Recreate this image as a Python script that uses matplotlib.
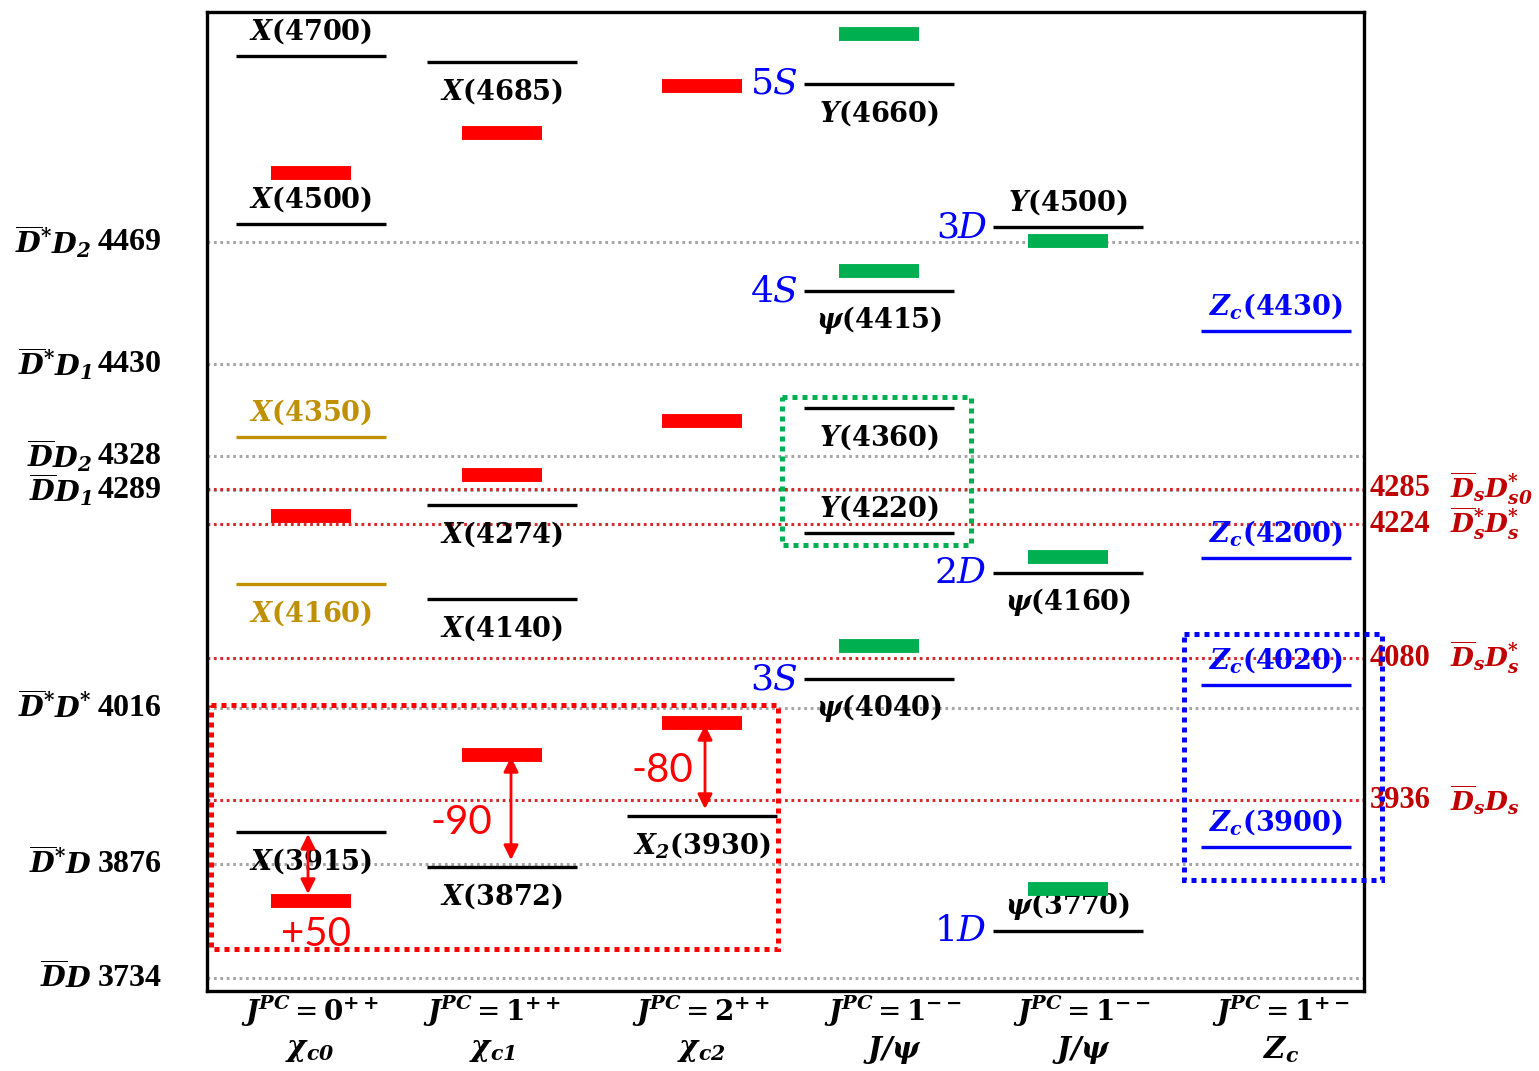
import matplotlib.pyplot as plt
from matplotlib.patches import Rectangle

plt.rcParams['mathtext.fontset'] = 'custom'
plt.rcParams['mathtext.rm'] = 'DejaVu Serif'
plt.rcParams['mathtext.it'] = 'DejaVu Serif:italic'
plt.rcParams['mathtext.bf'] = 'DejaVu Serif:bold'
plt.rcParams['mathtext.bfit'] = 'DejaVu Serif:italic:bold'

# --- data -----------------------------------------------------------------
# open-charm thresholds (left side), level height in diagram units
thr_name = [r'\overline{D}^{*}D_{2}', r'\overline{D}^{*}D_{1}', r'\overline{D}D_{2}',
            r'\overline{D}D_{1}', r'\overline{D}^{*}D^{*}', r'\overline{D}^{*}D',
            r'\overline{D}D']
thr_mass = [4469, 4430, 4328, 4289, 4016, 3876, 3734]
thr_y = [242, 364, 456, 490, 708, 864, 978]

# charm-strange thresholds (right side)
ds_name = [r'\overline{D}_{s}D^{*}_{s0}', r'\overline{D}^{*}_{s}D^{*}_{s}',
           r'\overline{D}_{s}D^{*}_{s}', r'\overline{D}_{s}D_{s}']
ds_mass = [4285, 4224, 4080, 3936]
ds_y = [489, 524, 658, 800]

# columns
jpc = [r'0^{++}', r'1^{++}', r'2^{++}', r'1^{--}', r'1^{--}', r'1^{+-}']
family = [r'\chi_{c0}', r'\chi_{c1}', r'\chi_{c2}', r'J/\psi', r'J/\psi', r'Z_{c}']

# observed states
level_col = [0, 0, 0, 0, 0, 1, 1, 1, 1, 2, 3, 3, 3, 3, 3, 4, 4, 4, 5, 5, 5, 5]
level_sym = ['X', 'X', 'X', 'X', 'X', 'X', 'X', 'X', 'X', 'X_{2}',
             'Y', r'\psi', 'Y', 'Y', r'\psi', 'Y', r'\psi', r'\psi',
             'Z_{c}', 'Z_{c}', 'Z_{c}', 'Z_{c}']
level_mass = [4700, 4500, 4350, 4160, 3915, 4685, 4274, 4140, 3872, 3930,
              4660, 4415, 4360, 4220, 4040, 4500, 4160, 3770,
              4430, 4200, 4020, 3900]
level_y = [56, 224, 437, 584, 832, 62, 505, 599, 867, 816,
           84, 291, 408, 533, 679, 227, 573, 931,
           331, 558, 685, 847]
level_side = ['up', 'up', 'up', 'down', 'down', 'down', 'down', 'down', 'down', 'down',
              'down', 'down', 'down', 'up', 'down', 'up', 'down', 'up',
              'up', 'up', 'up', 'up']
level_kind = ['k', 'k', 'g', 'g', 'k', 'k', 'k', 'k', 'k', 'k',
              'k', 'k', 'k', 'k', 'k', 'k', 'k', 'k',
              'b', 'b', 'b', 'b']

# model predictions
red_bar_col = [0, 0, 0, 1, 1, 1, 2, 2, 2]
red_bar_y = [173, 516, 901, 133, 475, 755, 86, 421, 723]
green_bar_col = [3, 3, 3, 4, 4, 4]
green_bar_y = [34, 271, 646, 241, 557, 889]

# radial assignments of the vector states
nl_label = ['5S', '4S', '3S', '3D', '2D', '1D']
nl_col = [3, 3, 3, 4, 4, 4]
nl_y = [84, 291, 679, 227, 573, 931]

# mass shifts between model and observed X states
shift_col = [0, 1, 2]
shift_level = [832, 867, 816]
shift_bar = [901, 755, 723]
shift_text = ['+50', '-90', '-80']

# --- layout ---------------------------------------------------------------
col_x = [311, 502, 702, 879, 1068, 1276]
half_w = 75
bar_half = 40
arrow_dx = [-3, 9, 3]
shift_text_xy = [(316, 935), (461, 822), (662, 770)]
header_x = [310, 492, 701, 893, 1082, 1281]

kind_color = {'k': 'black', 'g': '#BF9000', 'b': '#0000FF'}
red = '#FF0000'
green = '#00B050'
blue = '#0000FF'
dark_red = '#C00000'
grey = '#A6A6A6'

fig = plt.figure(figsize=(15.39, 10.71), dpi=100)
ax = fig.add_axes([207 / 1539, 1 - 991 / 1071, 1157 / 1539, 979 / 1071])
ax.set_xlim(207, 1364)
ax.set_ylim(991, 12)
ax.set_xticks([])
ax.set_yticks([])
for sp in ax.spines.values():
    sp.set_linewidth(2.4)

# threshold lines
for name, m, y in zip(thr_name, thr_mass, thr_y):
    ax.axhline(y, color=grey, lw=2.2, ls=(0, (0.9, 1.2)), zorder=1)
    ax.text(92, y, '$\\mathbfit{%s}$' % name, ha='right', va='center',
            fontsize=20.5, clip_on=False)
    ax.text(98, y, str(m), ha='left', va='center', fontsize=23,
            family='Liberation Serif', weight='bold', clip_on=False)

for name, m, y in zip(ds_name, ds_mass, ds_y):
    ax.axhline(y, color='#D42A2A', lw=2.2, ls=(0, (0.9, 1.2)), zorder=1)
    ax.text(1370, y, str(m), ha='left', va='center', fontsize=22,
            family='Liberation Serif', weight='bold', color=dark_red,
            clip_on=False)
    ax.text(1450, y, '$\\mathbfit{%s}$' % name, ha='left', va='center',
            fontsize=19, color=dark_red, clip_on=False)

# observed levels with their names
for c, s, m, y, side, k in zip(level_col, level_sym, level_mass, level_y,
                               level_side, level_kind):
    x0 = col_x[c]
    col = kind_color[k]
    ax.hlines(y, x0 - half_w, x0 + half_w, color=col, lw=2.4, zorder=3)
    ty = y - 25 if side == 'up' else y + 29
    ax.text(x0, ty, r'$\mathbfit{%s}\mathbf{(%d)}$' % (s, m), ha='center',
            va='center', fontsize=19.5, color=col, zorder=2)

# model bars
for c, y in zip(red_bar_col, red_bar_y):
    ax.hlines(y, col_x[c] - bar_half, col_x[c] + bar_half, color=red,
              lw=10, zorder=4)
for c, y in zip(green_bar_col, green_bar_y):
    ax.hlines(y, col_x[c] - bar_half, col_x[c] + bar_half, color=green,
              lw=10, zorder=4)

for t, c, y in zip(nl_label, nl_col, nl_y):
    ax.text(col_x[c] - half_w - 6, y, '$%s$' % t, ha='right', va='center',
            fontsize=26, color=blue)

# shifts
for c, yl, yb, t, dx, (tx, ty) in zip(shift_col, shift_level, shift_bar,
                                      shift_text, arrow_dx, shift_text_xy):
    x = col_x[c] + dx
    top, bot = min(yl, yb), max(yl, yb)
    ax.annotate('', xy=(x, top + 2), xytext=(x, bot - 7),
                arrowprops=dict(arrowstyle='<|-|>', color=red, lw=2,
                                mutation_scale=22, shrinkA=0, shrinkB=0),
                zorder=5)
    ax.text(tx, ty, t, ha='center', va='center', fontsize=29,
            family='Lato', color=red, zorder=5)

# grouping boxes
for (x, y, w, h), col in [((211, 705, 567, 244), red),
                          ((782, 397, 189, 148), green),
                          ((1184, 634, 198, 246), blue)]:
    ax.add_patch(Rectangle((x, y), w, h, fill=False, ec=col, lw=3.6,
                           ls=(0, (1, 1)), clip_on=False, zorder=6))

# column headers
for x, j, f in zip(header_x, jpc, family):
    ax.text(x, 1011, r'$\mathbfit{J}^{\mathbfit{PC}} = \mathbf{%s}$' % j,
            ha='center', va='center', fontsize=20, clip_on=False)
    ax.text(x, 1050, r'$\mathbfit{%s}$' % f, ha='center', va='center',
            fontsize=21, clip_on=False)

fig.savefig('out.png', dpi=100)
